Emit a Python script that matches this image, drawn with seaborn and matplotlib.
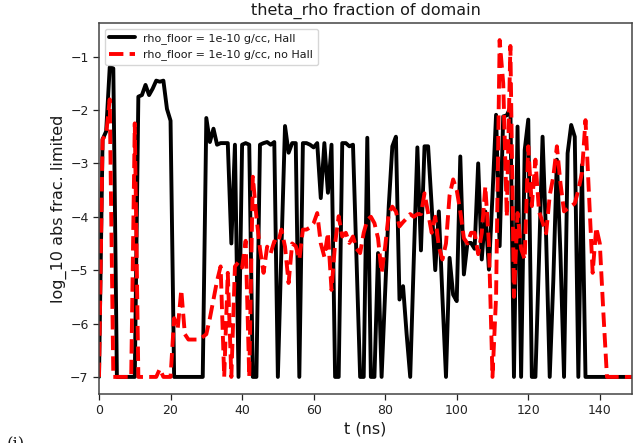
import numpy as np
import pandas as pd
import matplotlib
matplotlib.use("Agg")
import matplotlib.pyplot as plt
import seaborn as sns

t_ns = list(range(0, 150))

hall = [
    -7, -2.55, -2.4, -1.2, -1.22, -7, -7, -7, -7, -7,            # 0-9
    -7, -1.75, -1.72, -1.53, -1.72, -1.6, -1.45, -1.47, -1.45, -1.98,  # 10-19
    -2.2, -7, -7, -7, -7, -7, -7, -7, -7, -7,                    # 20-29
    -2.15, -2.6, -2.35, -2.65, -2.62, -2.62, -2.62, -4.5, -2.65, -7,  # 30-39
    -2.65, -2.62, -2.65, -7, -7, -2.65, -2.62, -2.6, -2.65, -2.6,  # 40-49
    -7, -4.6, -2.3, -2.8, -2.62, -2.62, -7, -2.62, -2.62, -2.65,  # 50-59
    -2.7, -2.62, -3.65, -2.62, -3.55, -2.65, -7, -7, -2.62, -2.62,  # 60-69
    -2.68, -2.65, -4.8, -7, -7, -2.52, -7, -7, -4.68, -7,        # 70-79
    -5.4, -3.8, -2.68, -2.5, -5.55, -5.3, -6.2, -7, -4.8, -2.7,   # 80-89
    -4.63, -2.68, -2.68, -3.8, -5.0, -3.9, -5.5, -7, -4.77, -5.46,  # 90-99
    -5.58, -2.87, -5.08, -4.49, -4.49, -4.6, -3.0, -4.8, -3.9, -4.99,  # 100-109
    -3.6, -2.09, -4.55, -2.12, -2.1, -1.95, -7, -2.31, -7, -2.75,  # 110-119
    -2.18, -7, -7, -4.8, -2.5, -4.4, -7, -5.2, -2.93, -4.7,       # 120-129
    -7, -2.81, -2.28, -2.5, -7, -3.03, -7, -7, -7, -7,            # 130-139
    -7, -7, -7, -7, -7, -7, -7, -7, -7, -7,                       # 140-149
]

no_hall = [
    -7, -2.55, -2.45, -1.8, -7, -7, -7, -7, -7, -7,              # 0-9
    -2.25, -7, -7, -7, -7, -7, -7, -6.85, -7, -7,                # 10-19
    -7, -5.9, -6.1, -5.37, -6.2, -6.3, -6.3, -6.3, -6.3, -6.25,   # 20-29
    -6.2, -5.9, -5.55, -5.2, -4.93, -7, -5.05, -7, -4.93, -4.85,  # 30-39
    -4.95, -4.45, -7, -3.25, -4.0, -4.6, -5.05, -4.56, -4.68, -4.46,  # 40-49
    -4.5, -4.24, -4.56, -5.24, -4.5, -4.55, -4.8, -4.24, -4.24, -4.2,  # 50-59
    -4.12, -3.93, -4.5, -4.75, -4.3, -5.37, -4.5, -3.99, -4.37, -4.3,  # 60-69
    -4.49, -4.37, -4.6, -4.68, -4.3, -4.06, -4.0, -4.12, -4.4, -5.05,  # 70-79
    -4.56, -3.93, -3.81, -3.9, -4.18, -4.1, -4.03, -3.95, -4.0, -3.95,  # 80-89
    -3.95, -3.56, -3.93, -4.3, -4.0, -4.56, -4.8, -4.5, -3.6, -3.3,  # 90-99
    -3.5, -3.9, -4.4, -4.5, -4.3, -4.3, -4.7, -4.3, -3.43, -4.5,  # 100-109
    -7, -5.5, -0.69, -1.5, -4.0, -0.8, -5.5, -3.93, -4.6, -4.8,   # 110-119
    -2.68, -3.8, -2.93, -3.9, -4.1, -4.31, -3.6, -3.25, -2.68, -3.37,  # 120-129
    -3.9, -3.85, -3.8, -3.75, -3.5, -3.18, -2.19, -3.6, -5.05, -4.2,  # 130-139
    -4.5, -5.8, -7, -7, -7, -7, -7, -7, -7, -7,                   # 140-149
]

label_hall = "rho_floor = 1e-10 g/cc, Hall"
label_nohall = "rho_floor = 1e-10 g/cc, no Hall"

df = pd.DataFrame({"t": t_ns, "hall": hall, "no_hall": no_hall})

sns.set_style("white")
plt.rcParams["font.family"] = ["DejaVu Sans"]
plt.rcParams["text.color"] = "#1a1a1a"
plt.rcParams["axes.labelcolor"] = "#1a1a1a"

fig = plt.figure(figsize=(6.33, 4.43), dpi=100)
ax = fig.add_axes([99 / 633, 1 - 394 / 443, (632 - 99) / 633, (394 - 23) / 443])

sns.lineplot(data=df, x="t", y="hall", ax=ax, color="black", linewidth=2.8,
             label=label_hall)
sns.lineplot(data=df, x="t", y="no_hall", ax=ax, color="red", linewidth=2.8,
             linestyle="--", label=label_nohall)

ax.set_xlim(0, 149)
ax.set_ylim(-7.32, -0.37)
ax.set_xticks([0, 20, 40, 60, 80, 100, 120, 140])
ax.set_yticks([-7, -6, -5, -4, -3, -2, -1])
ax.set_title("theta_rho fraction of domain", fontsize=11.5)
ax.set_xlabel("t (ns)", fontsize=11.5, labelpad=3)
ax.set_ylabel("log_10 abs frac. limited", fontsize=11.5, labelpad=2)
ax.tick_params(axis="both", labelsize=9, direction="out", length=4, width=0.9,
               colors="#222222", left=True, bottom=True)
for s in ax.spines.values():
    s.set_color("#444444")
    s.set_linewidth(1.1)
ax.legend(loc="upper left", fontsize=8, frameon=True, handlelength=2.3)

fig.text(0.011, 0.016, "(i)", family="serif", fontsize=12, va="top", ha="left")

fig.savefig("out.png", dpi=100)
